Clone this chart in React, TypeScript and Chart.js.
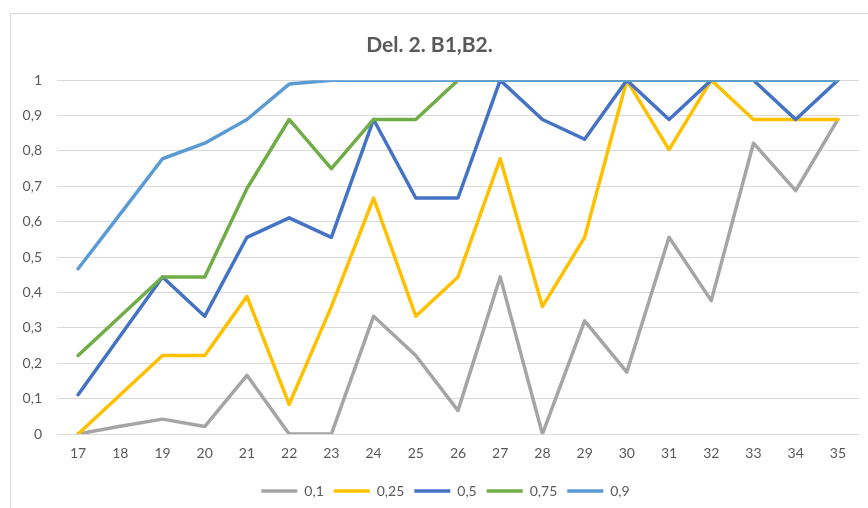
import React, { useEffect, useRef } from "react";
import { Chart, registerables } from "chart.js";

Chart.register(...registerables);

const categories = ["17", "18", "19", "20", "21", "22", "23", "24", "25", "26", "27", "28", "29", "30", "31", "32", "33", "34", "35"];
const seriesNames = ["0,1", "0,25", "0,5", "0,75", "0,9"];
const s01 = [0, 0.022, 0.042, 0.021, 0.166, 0, 0, 0.333, 0.222, 0.066, 0.444, 0, 0.32, 0.175, 0.556, 0.377, 0.822, 0.688, 0.889];
const s025 = [0, 0.111, 0.222, 0.222, 0.389, 0.084, 0.36, 0.667, 0.333, 0.444, 0.778, 0.36, 0.556, 1, 0.804, 1, 0.889, 0.889, 0.889];
const s05 = [0.111, 0.278, 0.444, 0.333, 0.556, 0.611, 0.556, 0.889, 0.667, 0.667, 1, 0.889, 0.833, 1, 0.889, 1, 1, 0.889, 1];
const s075 = [0.222, 0.333, 0.444, 0.444, 0.694, 0.889, 0.75, 0.889, 0.889, 1, 1, 1, 1, 1, 1, 1, 1, 1, 1];
const s09 = [0.467, 0.622, 0.778, 0.822, 0.889, 0.989, 1, 1, 1, 1, 1, 1, 1, 1, 1, 1, 1, 1, 1];
const colors = ["#A5A5A5", "#FFC000", "#4472C4", "#70AD47", "#5B9BD5"];
const yTicks = [0, 0.1, 0.2, 0.3, 0.4, 0.5, 0.6, 0.7, 0.8, 0.9, 1];

const legendShift = {
  id: "legendShift",
  afterLayout(chart: any) {
    if (chart.legend) {
      chart.legend.left += 16;
      chart.legend.right += 16;
    }
  },
};

export default function App() {
  const ref = useRef<HTMLCanvasElement>(null);
  useEffect(() => {
    const all = [s01, s025, s05, s075, s09];
    const chart = new Chart(ref.current as HTMLCanvasElement, {
      type: "line",
      data: {
        labels: categories,
        datasets: all.map((d, i) => ({
          label: seriesNames[i],
          data: d,
          order: all.length - 1 - i,
          borderColor: colors[i],
          backgroundColor: colors[i],
          borderWidth: 3.5,
          pointRadius: 0,
          pointHoverRadius: 0,
          tension: 0,
          borderJoinStyle: "round" as const,
          borderCapStyle: "round" as const,
          fill: false,
          clip: 0,
        })),
      },
      plugins: [legendShift],
      options: {
        responsive: false,
        animation: false,
        devicePixelRatio: 1,
        layout: { padding: { left: 0, right: 9, top: 0, bottom: 0 } },
        plugins: {
          title: {
            display: true,
            text: "Del. 2. B1,B2.",
            color: "#595959",
            font: { family: "Lato", size: 21, weight: "bold" },
            padding: { top: 33, bottom: 22 },
          },
          legend: {
            position: "bottom",
            labels: {
              color: "#595959",
              font: { family: "Lato", size: 14 },
              usePointStyle: true,
              pointStyle: "line",
              pointStyleWidth: 36,
              boxHeight: 14,
              padding: 10,
              sort: (a: any, b: any) => a.datasetIndex - b.datasetIndex,
            },
          },
          tooltip: { enabled: false },
        },
        scales: {
          x: {
            offset: true,
            grid: { display: false, drawTicks: false },
            border: { display: false },
            ticks: { color: "#595959", font: { family: "Lato", size: 14 }, padding: 11, maxRotation: 0 },
            afterFit: (s: any) => { s.height = 40; },
          },
          y: {
            min: 0,
            max: 1,
            grid: { color: "#D9D9D9", lineWidth: 1, drawTicks: false },
            border: { display: false },
            afterBuildTicks: (s: any) => { s.ticks = yTicks.map((v) => ({ value: v })); },
            ticks: {
              color: "#595959",
              font: { family: "Lato", size: 14 },
              padding: 15,
              callback: (v: any) => String(Math.round(Number(v) * 10) / 10).replace(".", ","),
            },
            afterFit: (s: any) => { s.width = 57; },
          },
        },
      },
    });
    return () => chart.destroy();
  }, []);
  return (
    <div style={{ position: "fixed", left: 0, top: 0, width: 868, height: 508, background: "#fff", overflow: "hidden" }}>
      <div style={{ position: "absolute", left: 10, top: 13, width: 900, height: 600, border: "1px solid #D9D9D9", boxSizing: "border-box" }} />
      <canvas ref={ref} width={868} height={508} style={{ position: "absolute", left: 0, top: 0, width: 868, height: 508 }} />
    </div>
  );
}
